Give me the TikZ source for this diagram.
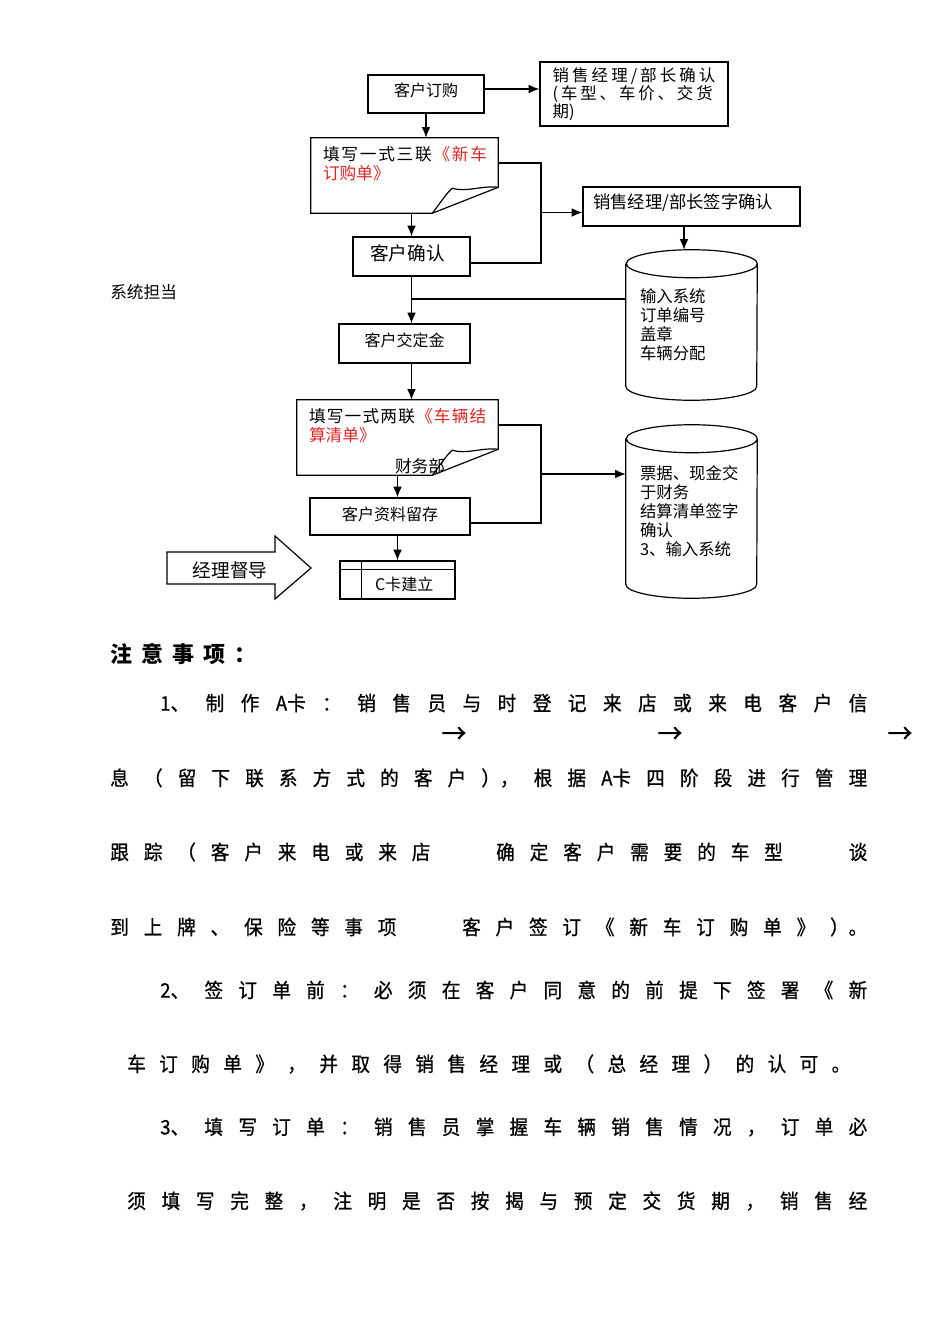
\documentclass[tikz,border=0pt]{standalone}
\usepackage{fontspec}
\setmainfont{Noto Sans CJK SC}
\newfontfamily\notefont[FakeBold=0.8, FakeStretch=0.93]{Noto Sans CJK SC}
\usepackage{xcolor}
\usepackage{tikz}
\usetikzlibrary{arrows, arrows.meta}
\usetikzlibrary{positioning}
\definecolor{formred}{RGB}{225,35,35}
\tikzstyle{process} = [rectangle, minimum height=29.25pt, text centered, draw=black, line width=0.9pt, font=\fontsize{12pt}{14pt}\selectfont]
\tikzstyle{store} = [rectangle, minimum width=98.25pt, inner xsep=10.5pt, text width=77.25pt, align=left, font=\fontsize{12.3pt}{14.25pt}\selectfont]
\tikzstyle{formtext} = [inner sep=0pt, align=left, font=\fontsize{12.5pt}{14.25pt}\selectfont]
\tikzstyle{bodyline} = [anchor=west, inner sep=0pt, font=\notefont\fontsize{15pt}{17pt}\selectfont]
\tikzstyle{arrow} = [line width=0.9pt,-{Latex[length=8pt,width=6.5pt]}]
\tikzstyle{line} = [line width=0.9pt]
% spread a list of tokens over a given width
\newcommand{\spreadline}[2]{\hbox to #1{\spreadtok#2\relax\unskip}}
\def\spreadtok#1{\ifx\relax#1\else#1\hfill\expandafter\spreadtok\fi}
\newcommand{\gap}{\hspace{27pt}}
% sheet with a turned-up corner
\newcommand{\docoutline}[1]{%
\draw [line] (#1.south west) -- (#1.north west) -- (#1.north east) -- ([yshift=19.5pt]#1.south east) -- ([xshift=-49.5pt]#1.south east) -- cycle;
\draw [line] ([xshift=-49.5pt]#1.south east) .. controls ([shift={(-44pt,7pt)}]#1.south east) and ([shift={(-39pt,15pt)}]#1.south east) .. ([shift={(-34.5pt,18.75pt)}]#1.south east) .. controls ([shift={(-24pt,15.5pt)}]#1.south east) and ([shift={(-12pt,21pt)}]#1.south east) .. ([yshift=19.5pt]#1.south east);}
% drum for the records
\newcommand{\cyloutline}[1]{%
\draw [line] ([yshift=-10.5pt]#1.north west) -- ([yshift=10.5pt]#1.south west) arc (180:360:49.125pt and 10.5pt) -- ([yshift=-10.5pt]#1.north east) arc (0:180:49.125pt and 10.5pt) arc (180:360:49.125pt and 10.5pt);}

\begin{document}
\begin{tikzpicture}[x=0.75pt, y=-0.75pt]
\useasboundingbox (0,0) rectangle (950,1344);

\node (order) [process, minimum width=87pt, minimum height=28.5pt] at (426,94) {\raisebox{2.5pt}[\height][\depth]{客户订购}};
\node (mgrcheck) [process, minimum width=141pt, minimum height=48pt, align=left, font=\fontsize{12.3pt}{12.4pt}\selectfont] at (634,94) {\spreadline{122pt}{销 售 经 理 / 部 长 确 认}\\\spreadline{120pt}{( 车 型 、 车 价 、 交 货}\\期)};

\node (doc1) [minimum width=140.25pt, minimum height=56.25pt] at (404.5,175.5) {};
\docoutline{doc1}
\node (doc1txt) [formtext, below right=6pt and 9pt of doc1.north west] {\spreadline{123pt}{填 写 一 式 三 联 {\color{formred}《} 新 车}\\{\color{formred}订购单》}};

\node (signbox) [process, minimum width=162.75pt, text width=147.75pt, inner xsep=7.5pt, align=left, font=\fontsize{13pt}{14pt}\selectfont] at (691.5,206.5) {\raisebox{3pt}[\height][\depth]{销售经理/部长签字确认}};
\node (custok) [process, minimum width=87.75pt, font=\fontsize{14pt}{16pt}\selectfont] at (411.5,256.5) {\hspace*{-6pt}\raisebox{2pt}[\height][\depth]{客户确认}};
\node (sysentry) [store, minimum height=112.5pt] at (691.5,325) {输入系统\\订单编号\\盖章\\车辆分配};
\cyloutline{sysentry}
\node (sysowner) [anchor=west, inner sep=0pt, font=\fontsize{12.5pt}{14pt}\selectfont] at (110,292) {系统担当};
\node (deposit) [process, minimum width=98.25pt] at (404.5,343.5) {\raisebox{2.5pt}[\height][\depth]{客户交定金}};

\node (doc2) [minimum width=150.75pt, minimum height=56.25pt] at (397.5,437.5) {};
\docoutline{doc2}
\node (doc2txt) [formtext, below right=6pt and 9pt of doc2.north west] {\spreadline{133pt}{填 写 一 式 两 联 {\color{formred}《} 车 辆 结}\\{\color{formred}算清单》}};
\node (finance) [inner sep=0pt, font=\fontsize{12.5pt}{14pt}\selectfont] at (420,466) {财务部};

\node (archive) [process, minimum width=120pt, minimum height=27.75pt] at (390,516.5) {\raisebox{1.5pt}[\height][\depth]{客户资料留存}};
\node (ccard) [process, minimum width=86.25pt, minimum height=28.5pt] at (397.5,580) {\hspace*{10pt}\raisebox{-3.5pt}[\height][\depth]{C卡建立}};
\draw [line] ([yshift=-6.75pt]ccard.north west) -- ([yshift=-6.75pt]ccard.north east);
\draw [line] ([xshift=16.5pt]ccard.north west) -- ([xshift=16.5pt]ccard.south west);
\node (cashbox) [store, minimum height=129.75pt] at (691.5,511.5) {票据、现金交\\于财务\\结算清单签字\\确认\\3、输入系统};
\cyloutline{cashbox}

\node (supervise) [font=\fontsize{14pt}{16pt}\selectfont] at (230,570) {经理督导};
\draw [line] (167,552) -- (275,552) -- (275,536) -- (311,568) -- (275,599) -- (275,584) -- (167,584) -- cycle;

\coordinate (bus1) at (541,163);
\coordinate (bus2) at (541,263);
\coordinate (bus3) at (541,425);
\coordinate (bus4) at (541,523);
\coordinate (bus5) at (541,474);

\draw [arrow] ([yshift=3.75pt]order.east) -- ([yshift=3.75pt]mgrcheck.west);
\draw [arrow] (order.south) -- (order.south |- doc1.north);
\draw [arrow] (doc1.south -| custok) -- (custok.north);
\draw [line] (bus1 -| doc1.east) -- (bus1) -- (bus2) -- (bus2 -| custok.east);
\draw [arrow] ([yshift=-4.5pt]bus1 |- signbox) -- ([yshift=-4.5pt]signbox.west);
\draw [arrow] (signbox.south -| 684,0) -- (sysentry.north -| 684,0);
\draw [arrow] (custok.south) -- (custok.south |- deposit.north);
\draw [line] ([yshift=19.5pt]sysentry.west) -- ([yshift=19.5pt]sysentry.west -| custok.south);
\draw [arrow] (custok.south |- deposit.south) -- (custok.south |- doc2.north);
\draw [arrow] (doc2.south) -- (doc2.south |- archive.north);
\draw [line] (bus3 -| doc2.east) -- (bus3) -- (bus4) -- (bus4 -| archive.east);
\draw [arrow] (bus5) -- (bus5 -| cashbox.west);
\draw [arrow] (doc2.south |- archive.south) -- (ccard.north);

% notes below the chart
\node (notes) [anchor=west, inner sep=0pt, font=\bfseries\fontsize{16.5pt}{18pt}\selectfont] at (110,654) {\spreadline{110pt}{注 意 事 项 ：}};
\node (note1a) [bodyline] at (160,703) {\spreadline{530.25pt}{{1、} 制 作 {A卡} ： 销 售 员 与 时 登 记 来 店 或 来 电 客 户 信}};
\node (arrowA) [font=\notefont\fontsize{20pt}{22pt}\selectfont] at (454,735) {→};
\node (arrowB) [font=\notefont\fontsize{20pt}{22pt}\selectfont] at (670,735) {→};
\node (arrowC) [font=\notefont\fontsize{20pt}{22pt}\selectfont] at (900,735) {→};
\node (note1b) [bodyline] at (110,778) {\spreadline{567.75pt}{息 （ 留 下 联 系 方 式 的 客 户 {），} 根 据 {A卡} 四 阶 段 进 行 管 理}};
\node (note1c) [bodyline] at (110,852) {\spreadline{567.75pt}{跟 踪 （ 客 户 来 电 或 来 店 \gap 确 定 客 户 需 要 的 车 型 \gap 谈}};
\node (note1d) [bodyline] at (110,927) {\spreadline{567.75pt}{到 上 牌 、 保 险 等 事 项 \gap 客 户 签 订 《 新 车 订 购 单 》 {）。}}};
\node (note2a) [bodyline] at (160,990) {\spreadline{530.25pt}{{2、} 签 订 单 前 ： 必 须 在 客 户 同 意 的 前 提 下 签 署 《 新}};
\node (note2b) [bodyline] at (127,1064) {\spreadline{542.25pt}{车 订 购 单 》 ， 并 取 得 销 售 经 理 或 （ 总 经 理 ） 的 认 可 。}};
\node (note3a) [bodyline] at (160,1127) {\spreadline{530.25pt}{{3、} 填 写 订 单 ： 销 售 员 掌 握 车 辆 销 售 情 况 ， 订 单 必}};
\node (note3b) [bodyline] at (127,1201) {\spreadline{555pt}{须 填 写 完 整 ， 注 明 是 否 按 揭 与 预 定 交 货 期 ， 销 售 经}};
\end{tikzpicture}
\end{document}
